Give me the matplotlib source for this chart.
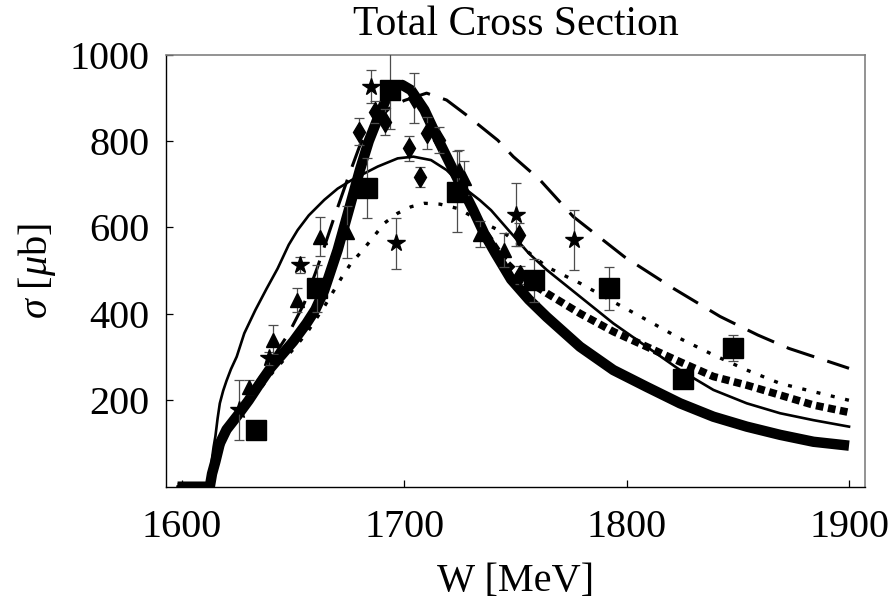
import matplotlib
matplotlib.use('Agg')
import matplotlib.pyplot as plt

plt.rcParams['font.family'] = ['Liberation Serif', 'DejaVu Serif']
plt.rcParams['mathtext.fontset'] = 'custom'
plt.rcParams['mathtext.rm'] = 'Liberation Serif'
plt.rcParams['mathtext.it'] = 'Liberation Serif:italic'

# --- model curves (W in MeV, sigma in mub) ---
w_thick = [1598, 1612.5, 1613.5, 1615, 1617, 1620, 1625, 1630, 1635, 1640, 1645.5, 1650, 1656,
           1660, 1664, 1670, 1675, 1680, 1684, 1688, 1692, 1695, 1699, 1703, 1709, 1716, 1724,
           1731, 1736, 1741, 1748, 1756, 1764, 1779, 1794, 1809, 1824, 1839, 1854, 1869, 1884, 1900]
s_thick = [0, 0, 30, 58, 100, 132, 165, 200, 239, 276, 309, 336, 378,
           410, 455, 548, 640, 733, 800, 852, 900, 924, 930, 918, 872, 795, 712,
           640, 585, 540, 480, 433, 393, 324, 270, 231, 193, 162, 139, 120, 104, 95]

w_thin = [1598, 1612.3, 1612.6, 1613, 1613.4, 1614.2, 1615, 1616, 1617, 1618.5, 1620, 1622,
          1624.6, 1628, 1633, 1638, 1643, 1648, 1652, 1657, 1664, 1670, 1677, 1688, 1697,
          1704, 1712, 1719, 1728, 1734, 1739, 1748, 1756, 1764, 1779, 1794, 1809, 1824, 1839,
          1854, 1869, 1884, 1900]
s_thin = [0, 0, 25, 45, 62, 92, 116, 158, 193, 222, 245, 272,
          301, 355, 409, 458, 505, 560, 594, 628, 664, 690, 712, 741, 760,
          764, 756, 733, 687, 663, 640, 587, 540, 502, 440, 378, 324, 270, 224,
          193, 170, 154, 139]

w_dash = [1598, 1612.5, 1615, 1620, 1625, 1630, 1635, 1640, 1648, 1655, 1661, 1668, 1675, 1680,
          1685, 1694, 1700, 1710, 1719, 1728, 1742, 1749, 1761, 1776, 1799, 1821, 1842, 1859,
          1873, 1900]
s_dash = [0, 0, 55, 135, 172, 212, 252, 292, 355, 425, 509, 617, 720, 790,
          833, 880, 894, 911, 895, 860, 802, 764, 710, 625, 532, 459, 394, 351,
          320, 274]

w_dot = [1598, 1612.5, 1615, 1620, 1625, 1630, 1640, 1650, 1656, 1664, 1672, 1676, 1680, 1685,
         1691, 1697, 1703, 1709, 1716, 1724, 1736, 1745, 1764, 1779, 1794, 1809, 1824, 1839,
         1854, 1869, 1884, 1900]
s_dot = [0, 0, 50, 120, 155, 190, 260, 318, 355, 417, 486, 517, 540, 571,
         610, 633, 648, 656, 654, 644, 610, 587, 509, 471, 428, 386, 343, 305,
         270, 239, 220, 200]

w_sq = [1598, 1612.5, 1613.5, 1615, 1617, 1620, 1625, 1630, 1635, 1640, 1645.5, 1650, 1656,
        1660, 1664, 1670, 1675, 1680, 1684, 1688, 1692, 1695, 1699, 1703, 1709, 1716, 1724,
        1731, 1736, 1741, 1745, 1749, 1755, 1764, 1779, 1794, 1809, 1824, 1839, 1854, 1869,
        1884, 1900]
s_sq = [0, 0, 30, 58, 100, 132, 165, 200, 239, 276, 309, 336, 378,
        410, 455, 548, 640, 733, 800, 852, 900, 924, 930, 918, 872, 795, 712,
        640, 590, 552, 522, 502, 478, 448, 401, 359, 324, 289, 255, 235, 212,
        189, 172]

# --- data points ---
star_w = [1625.8, 1638.9, 1653.2, 1685, 1696.3, 1750, 1776.3]
star_s = [178, 297, 513, 926, 563, 629, 571]
star_e = [70, 15, 19, 38, 60, 73, 69]

tri_w = [1629.9, 1641.1, 1651.7, 1662.2, 1674, 1724.5, 1727, 1734, 1744.7]
tri_s = [231, 340, 432, 579, 590, 733, 715, 585, 548]
tri_e = [16, 34, 27, 46, 60, 46, 40, 30, 40]

dia_w = [1679.4, 1687, 1691.4, 1704.2, 1702, 1706.9, 1710, 1715.5, 1751.5, 1752]
dia_s = [822, 868, 845, 899, 783, 716, 818, 803, 583, 490]
dia_e = [31, 25, 30, 58, 29, 23, 37, 30, 27, 20]

sq_w = [1633.3, 1660.7, 1683.2, 1693.7, 1723.7, 1758.3, 1792, 1825.4, 1847.6]
sq_s = [131, 459, 691, 918, 683, 478, 459, 249, 320]
sq_e = [0, 55, 70, 90, 93, 50, 50, 0, 30]

fig = plt.figure(figsize=(8.94, 6.01), dpi=100)
ax = fig.add_axes([0.1857, 0.1902, 0.7819, 0.7188])

ax.plot(w_dash, s_dash, color='black', lw=2.2, ls=(0, (9.5, 4.5)), zorder=2)
ax.plot(w_dot, s_dot, color='black', lw=2.4, ls=(0, (1.2, 3.2)), zorder=2)
ax.plot(w_thin, s_thin, color='black', lw=1.9, zorder=2)
ax.plot(w_sq, s_sq, color='black', lw=5.5, ls=(0, (1.0, 0.6)), zorder=3)
ax.plot(w_thick, s_thick, color='black', lw=7.5, solid_capstyle='butt', zorder=4)

ebar = dict(fmt='none', ecolor='#4d4d4d', elinewidth=0.9, capsize=3.5, capthick=0.9, zorder=5)
ax.errorbar(star_w, star_s, yerr=star_e, **ebar)
ax.errorbar(tri_w, tri_s, yerr=tri_e, **ebar)
ax.errorbar(dia_w, dia_s, yerr=dia_e, **ebar)
ax.errorbar(sq_w, sq_s, yerr=sq_e, **ebar)

ax.plot(star_w, star_s, ls='none', marker='*', ms=13, color='black', zorder=6)
ax.plot(tri_w, tri_s, ls='none', marker='^', ms=10, color='black', zorder=6)
ax.plot(dia_w, dia_s, ls='none', marker='d', ms=10, color='black', zorder=6)
ax.plot(sq_w, sq_s, ls='none', marker='s', ms=14, color='black', zorder=6)

ax.set_xlim(1592.8, 1907.2)
ax.set_ylim(0, 1000)
ax.set_xticks([1600, 1700, 1800, 1900])
ax.set_yticks([200, 400, 600, 800, 1000])
ax.tick_params(direction='in', length=5, width=0.9, labelsize=29, top=False, right=False)
ax.tick_params(axis='x', pad=16)
ax.tick_params(axis='y', pad=12)

for side in ['left', 'bottom']:
    ax.spines[side].set_color('black')
    ax.spines[side].set_linewidth(1.0)
for side in ['top', 'right']:
    ax.spines[side].set_color('#808080')
    ax.spines[side].set_linewidth(1.2)

ax.set_title('Total Cross Section', fontsize=30, pad=14)
ax.set_xlabel('W [MeV]', fontsize=29, labelpad=12)
ax.set_ylabel(r'$\sigma$ [$\mu$b]', fontsize=29, labelpad=8)

fig.savefig('out.png', dpi=100)
